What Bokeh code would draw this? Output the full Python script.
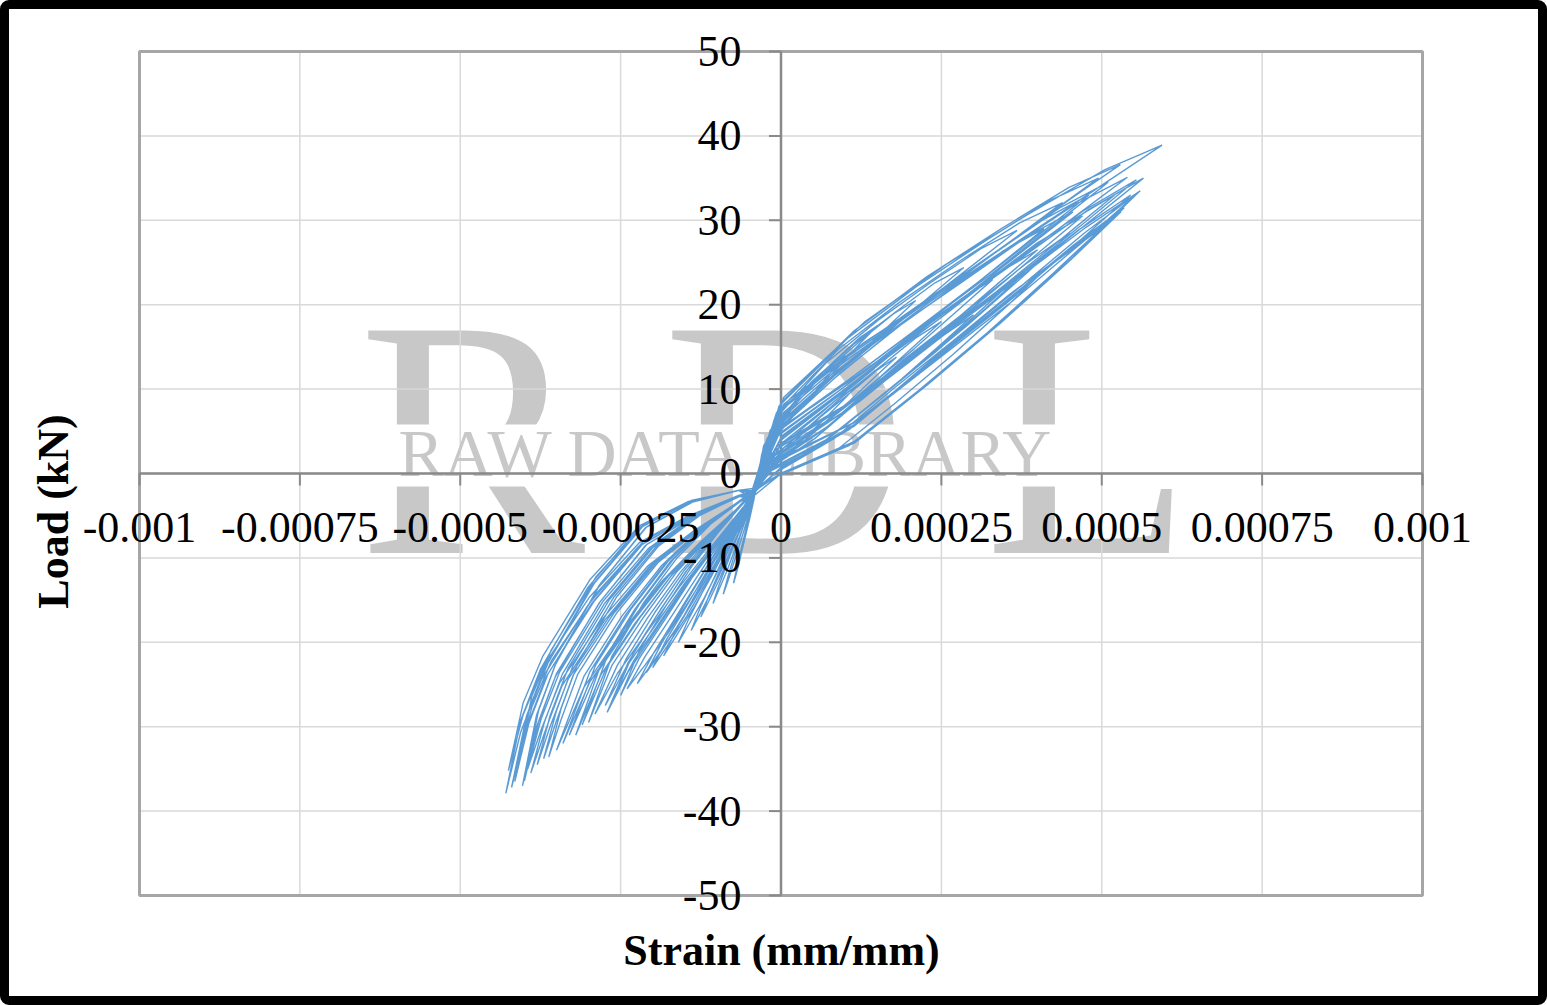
import math
from bokeh.plotting import figure
from bokeh.models import Range1d, ColumnDataSource
from bokeh.core.properties import value
from bokeh.embed import file_html
from bokeh.resources import INLINE

# ---------------- data: strain in microstrain, load in kN, one row per loading cycle ----------------
cycle_strain_ue = [
    [-40, -30, -2, 26, 54, 80, 100, 80, 54, 26, -2, -30, -38, -42, -49, -56, -63, -69, -74, -69, -63, -56, -49, -42],
    [-40, -29, 3, 35, 67, 98, 120, 98, 67, 35, 3, -29, -40, -62, -124, -186, -248, -307, -350, -307, -248, -186, -124, -62],
    [-44, -27, 11, 49, 87, 123, 150, 123, 87, 49, 11, -27, -40, -45, -58, -71, -84, -97, -106, -97, -84, -71, -58, -45],
    [-40, -25, 19, 63, 107, 149, 180, 149, 107, 63, 19, -25, -40, -44, -54, -64, -74, -83, -90, -83, -74, -64, -54, -44],
    [-40, -22, 28, 78, 128, 175, 210, 175, 128, 78, 28, -22, -46, -47, -67, -87, -107, -126, -140, -126, -107, -87, -67, -47],
    [-40, -20, 38, 96, 154, 209, 250, 209, 154, 96, 38, -20, -40, -46, -63, -80, -97, -113, -125, -113, -97, -80, -63, -46],
    [-36, -17, 48, 113, 178, 240, 285, 240, 178, 113, 48, -17, -40, -50, -79, -107, -136, -163, -183, -163, -136, -107, -79, -50],
    [-40, -16, 52, 120, 188, 252, 300, 252, 188, 120, 52, -16, -38, -48, -72, -96, -120, -143, -160, -143, -120, -96, -72, -48],
    [-42, -14, 60, 134, 208, 278, 330, 278, 208, 134, 60, -14, -48, -51, -83, -115, -147, -178, -200, -178, -147, -115, -83, -51],
    [-42, -13, 65, 143, 221, 295, 350, 295, 221, 143, 65, -13, -40, -52, -86, -120, -154, -186, -210, -186, -154, -120, -86, -52],
    [-40, -11, 70, 152, 233, 311, 368, 311, 233, 152, 70, -11, -40, -53, -90, -126, -163, -198, -224, -198, -163, -126, -90, -53],
    [-42, -11, 73, 157, 241, 321, 380, 321, 241, 157, 73, -11, -40, -55, -99, -143, -187, -229, -260, -229, -187, -143, -99, -55],
    [-45, -9, 79, 167, 255, 338, 400, 338, 255, 167, 79, -9, -42, -55, -97, -139, -181, -221, -250, -221, -181, -139, -97, -55],
    [-40, -9, 82, 172, 262, 347, 410, 347, 262, 172, 82, -9, -46, -54, -94, -134, -174, -212, -240, -212, -174, -134, -94, -54],
    [-38, -8, 84, 176, 268, 356, 420, 356, 268, 176, 84, -8, -40, -56, -103, -150, -197, -241, -274, -241, -197, -150, -103, -56],
    [-40, -7, 89, 185, 281, 372, 439, 372, 281, 185, 89, -7, -50, -56, -102, -149, -195, -239, -271, -239, -195, -149, -102, -56],
    [-40, -6, 92, 190, 288, 381, 450, 381, 288, 190, 92, -6, -44, -60, -118, -176, -234, -289, -330, -289, -234, -176, -118, -60],
    [-40, -4, 98, 200, 302, 399, 470, 399, 302, 200, 98, -4, -42, -59, -113, -167, -221, -272, -310, -272, -221, -167, -113, -59],
    [-42, -4, 100, 204, 308, 407, 480, 407, 308, 204, 100, -4, -44, -58, -110, -162, -214, -264, -300, -264, -214, -162, -110, -58],
    [-45, -3, 105, 212, 319, 420, 495, 420, 319, 212, 105, -3, -40, -63, -129, -195, -261, -324, -350, -370, -350, -324, -261, -195, -129, -63],
    [-40, -2, 106, 214, 322, 424, 500, 424, 322, 214, 106, -2, -38, -60, -116, -172, -228, -281, -320, -281, -228, -172, -116, -60],
    [-36, -2, 109, 219, 329, 433, 510, 433, 329, 219, 109, -2, -40, -65, -136, -207, -278, -345, -374, -395, -374, -345, -278, -207, -136, -65],
    [-40, -1, 111, 223, 335, 442, 520, 442, 335, 223, 111, -1, -52, -63, -127, -191, -256, -317, -343, -362, -343, -317, -256, -191, -127, -63],
    [-46, 0, 114, 227, 341, 449, 529, 449, 341, 227, 114, 0, -40, -61, -121, -181, -241, -298, -340, -298, -241, -181, -121, -61],
    [-38, 0, 114, 228, 342, 450, 530, 450, 342, 228, 114, 0, -40, -58, -108, -158, -208, -255, -290, -255, -208, -158, -108, -58],
    [-38, 0, 115, 230, 345, 455, 535, 455, 345, 230, 115, 0, -40, -64, -132, -200, -268, -332, -360, -380, -360, -332, -268, -200, -132, -64],
    [-44, 1, 117, 233, 349, 459, 540, 459, 349, 233, 117, 1, -46, -65, -135, -205, -275, -341, -369, -390, -369, -341, -275, -205, -135, -65],
    [-40, 1, 118, 235, 352, 463, 545, 463, 352, 235, 118, 1, -48, -66, -141, -216, -291, -363, -393, -415, -393, -363, -291, -216, -141, -66],
    [-40, 2, 120, 239, 358, 471, 554, 471, 358, 239, 120, 2, -40, -65, -137, -209, -281, -350, -378, -400, -378, -350, -281, -209, -137, -65],
    [-48, 2, 121, 241, 360, 473, 557, 473, 360, 241, 121, 2, -44, -65, -138, -211, -283, -352, -381, -403, -381, -352, -283, -211, -138, -65],
    [-40, 2, 122, 242, 362, 476, 560, 476, 362, 242, 122, 2, -42, -66, -140, -214, -288, -358, -388, -410, -388, -358, -288, -214, -140, -66],
    [-40, 2, 123, 244, 365, 480, 565, 480, 365, 244, 123, 2, -44, -67, -143, -219, -295, -367, -397, -420, -397, -367, -295, -219, -143, -67],
    [-40, -5, 94, 193, 292, 386, 455, 386, 292, 193, 94, -5, -40, -67, -144, -221, -298, -371, -402, -425, -402, -371, -298, -221, -144, -67],
    [-42, 4, 131, 258, 385, 505, 594, 505, 385, 258, 131, 4, -38, -67, -145, -223, -301, -375, -406, -429, -406, -375, -301, -223, -145, -67],
]
cycle_load_kN = [
    [-2, 2, 4.9, 7.4, 9.8, 12.2, 14, 12.9, 10.8, 8.5, 5.8, 2.3, -1.5, -2.8, -4.8, -7, -9.2, -11.2, -13, -11.7, -9.8, -7.6, -5.4, -3],
    [-2, -0.1, 1.8, 4.1, 6.4, 8.8, 10.5, 9.3, 7.1, 4.9, 2.5, 0.2, -2, -3.1, -6.5, -10.9, -16.9, -24, -32.8, -25.3, -18.8, -12.8, -8, -3.7],
    [-2.5, 2.9, 6.4, 9.4, 12.4, 15.4, 17.5, 16.1, 13.6, 10.8, 7.6, 3.3, -2, -2.9, -5.4, -8, -10.7, -13.3, -15.4, -13.8, -11.5, -8.8, -6.1, -3.2],
    [-2, 0.4, 2.7, 5.7, 8.6, 11.6, 13.8, 12.2, 9.5, 6.8, 3.7, 0.8, -2, -2.9, -5.1, -7.5, -10, -12.3, -14.3, -12.8, -10.7, -8.3, -5.8, -3.1],
    [-2, 3.6, 7.7, 11.2, 14.6, 18, 20.5, 18.9, 16, 12.7, 9, 4.1, -2.6, -3.2, -6.2, -9.5, -12.8, -15.9, -18.6, -16.6, -13.8, -10.5, -7.1, -3.5],
    [-2, 1.1, 4, 7.7, 11.4, 15.2, 18, 16, 12.6, 9.1, 5.2, 1.5, -2, -3.1, -5.8, -8.8, -11.8, -14.6, -17, -15.2, -12.7, -9.7, -6.6, -3.4],
    [-1.5, 4.6, 9.4, 13.4, 17.5, 21.5, 24.4, 22.6, 19.1, 15.3, 10.9, 5.1, -2, -3.4, -7, -10.8, -14.7, -18.5, -21.6, -19.2, -15.9, -12, -8, -3.8],
    [-2, 0.3, 2.9, 7, 11.2, 15.5, 18.8, 16.3, 12.5, 8.5, 4.1, 0.7, -1.8, -3.3, -6.6, -10.1, -13.7, -17.1, -20, -17.8, -14.8, -11.2, -7.5, -3.6],
    [-2.3, 1.9, 5.5, 10.1, 14.8, 19.5, 23, 20.5, 16.3, 11.9, 7, 2.4, -3, -3.5, -7.4, -11.5, -15.7, -19.6, -23, -20.5, -16.9, -12.7, -8.4, -3.9],
    [-2.2, 0.6, 3.6, 8.4, 13.2, 18.2, 22, 19.1, 14.7, 10.1, 5.1, 1.1, -2, -3.5, -7.5, -11.7, -16, -20.1, -23.6, -21, -17.3, -13, -8.6, -3.9],
    [-2, 5.7, 11.2, 16, 20.8, 25.4, 28.8, 26.6, 22.6, 18.2, 13.1, 6.3, -2, -3.6, -7.8, -12.3, -16.9, -21.2, -24.9, -22.2, -18.3, -13.7, -9, -4.1],
    [-2.2, 0.8, 4.1, 9.2, 14.4, 19.7, 23.8, 20.7, 15.9, 11, 5.6, 1.4, -2, -3.2, -6.9, -11.1, -16, -21.1, -26.5, -22.1, -17.4, -12.5, -8.1, -3.7],
    [-2.6, 2.4, 6.6, 11.8, 17.1, 22.5, 26.5, 23.7, 18.8, 13.8, 8.3, 3, -2.2, -3.2, -6.9, -11, -15.9, -21, -26.3, -21.9, -17.3, -12.4, -8.1, -3.7],
    [-2, 4.2, 9.3, 14.6, 19.9, 25.1, 29, 26.4, 21.7, 16.8, 11.2, 4.8, -2.6, -3.6, -8, -12.6, -17.3, -21.7, -25.5, -22.7, -18.7, -14, -9.2, -4.1],
    [-1.8, -0.4, 2.6, 8.2, 14.1, 20.1, 24.8, 21.2, 15.7, 10.1, 4.2, 0.1, -2, -3.3, -7.1, -11.4, -16.5, -21.9, -27.5, -22.9, -18.1, -13, -8.4, -3.8],
    [-2, 6.5, 12.7, 18, 23.2, 28.3, 32.1, 29.7, 25.3, 20.3, 14.7, 7.2, -3.2, -3.3, -7.3, -11.7, -17, -22.5, -28.3, -23.6, -18.6, -13.3, -8.6, -3.8],
    [-2, 1.4, 5.2, 11.3, 17.4, 23.6, 28.5, 24.8, 19.2, 13.4, 7, 2, -2.4, -3, -6.2, -10.4, -16.1, -22.7, -31, -23.9, -17.8, -12.2, -7.7, -3.6],
    [-2, 3, 7.8, 13.8, 19.8, 26, 30.5, 27.3, 21.7, 16, 9.7, 3.7, -2.3, -3, -6, -10.1, -15.5, -21.9, -29.8, -23, -17.2, -11.7, -7.4, -3.5],
    [-2.2, 5, 10.8, 16.7, 22.7, 28.6, 33, 30, 24.8, 19.2, 12.9, 5.7, -2.4, -3, -6, -10, -15.3, -21.7, -29.5, -22.8, -17, -11.6, -7.4, -3.5],
    [-2.6, 7.3, 13.9, 19.6, 25.4, 30.9, 35, 32.4, 27.6, 22.2, 16.1, 8, -2, -2.6, -5, -8.7, -14.7, -22.7, -28.1, -33.8, -29.3, -23.9, -16.6, -10.6, -6.6, -3.3],
    [-2, -0.1, 3.3, 9.8, 16.7, 23.7, 29.1, 24.9, 18.5, 12, 5.2, 0.5, -1.8, -3, -6.2, -10.4, -16.1, -22.7, -31, -23.9, -17.8, -12.2, -7.7, -3.6],
    [-1.6, 5.3, 11.3, 17.5, 23.7, 29.9, 34.5, 31.4, 25.9, 20.1, 13.5, 6, -2, -2.7, -5.1, -8.9, -15.2, -23.5, -29.1, -35, -30.4, -24.8, -17.2, -10.9, -6.8, -3.3],
    [-2, 3.4, 8.5, 15, 21.5, 28.1, 33, 29.5, 23.6, 17.4, 10.6, 4.1, -3.3, -2.6, -5, -8.6, -14.6, -22.5, -27.9, -33.6, -29.2, -23.8, -16.5, -10.5, -6.6, -3.3],
    [-2.7, 7.7, 14.6, 20.6, 26.6, 32.4, 36.6, 33.9, 28.9, 23.3, 16.9, 8.4, -2, -3.1, -6.4, -10.7, -16.6, -23.5, -32, -24.7, -18.4, -12.5, -7.9, -3.7],
    [-1.7, 0, 3.6, 10.5, 17.8, 25.2, 31, 26.5, 19.8, 12.9, 5.6, 0.6, -2, -3.3, -7.3, -11.8, -17.1, -22.7, -28.5, -23.7, -18.7, -13.4, -8.6, -3.9],
    [-1.6, 0, 3.7, 10.7, 18.1, 25.6, 31.5, 27, 20.1, 13.1, 5.7, 0.7, -2, -2.7, -5.1, -8.8, -15, -23.1, -28.7, -34.5, -30, -24.4, -17, -10.8, -6.7, -3.3],
    [-2.4, 5.4, 11.5, 17.8, 24.2, 30.5, 35.1, 31.9, 26.4, 20.4, 13.8, 6.2, -2.6, -2.7, -5.2, -9, -15.4, -23.8, -29.5, -35.5, -30.8, -25.1, -17.4, -11, -6.9, -3.3],
    [-2, 1.9, 6.2, 13.2, 20.2, 27.4, 33, 28.8, 22.3, 15.7, 8.3, 2.6, -2.8, -2, -3.3, -6.3, -13, -22.4, -28.2, -36.5, -29.6, -23.7, -15.1, -8.4, -5.1, -2.7],
    [-2, 3.7, 9, 15.8, 22.7, 29.6, 34.8, 31.1, 24.9, 18.4, 11.2, 4.4, -2, -2, -3.3, -6.3, -13, -22.3, -28.1, -36.4, -29.5, -23.7, -15.1, -8.4, -5.1, -2.7],
    [-3, 0.1, 4, 11.4, 19.2, 27.1, 33.3, 28.5, 21.3, 13.9, 6.1, 0.8, -2.4, -2, -3.4, -6.4, -13.2, -22.7, -28.6, -37, -30, -24.1, -15.3, -8.5, -5.1, -2.7],
    [-2, 1.9, 6.3, 13.4, 20.5, 27.8, 33.5, 29.2, 22.7, 15.9, 8.5, 2.6, -2.2, -2, -3.2, -6, -12.2, -20.9, -26.3, -34, -27.6, -22.2, -14.2, -8, -4.9, -2.6],
    [-2, 3.7, 9.1, 15.9, 22.8, 29.8, 35, 31.3, 25, 18.5, 11.3, 4.5, -2.4, -2, -3.4, -6.4, -13.3, -22.8, -28.8, -37.2, -30.2, -24.2, -15.4, -8.5, -5.1, -2.7],
    [-2, 4.6, 10, 15.7, 21.3, 26.9, 31, 28.2, 23.2, 18, 12, 5.3, -2, -2, -3.3, -6.2, -12.6, -21.6, -27.2, -35.2, -28.6, -22.9, -14.6, -8.2, -5, -2.7],
    [-2.2, 8.2, 15.6, 21.9, 28.3, 34.4, 38.9, 36, 30.7, 24.8, 18, 9, -1.7, -2, -3.4, -6.5, -13.5, -23.2, -29.3, -37.9, -30.7, -24.6, -15.6, -8.7, -5.2, -2.7],
]
end_strain_ue = -40
end_load_kN = -2

x_ticks = [-0.001, -0.00075, -0.0005, -0.00025, 0, 0.00025, 0.0005, 0.00075, 0.001]
x_tick_labels = ["-0.001", "-0.00075", "-0.0005", "-0.00025", "0", "0.00025", "0.0005", "0.00075", "0.001"]
y_ticks = [-50, -40, -30, -20, -10, 0, 10, 20, 30, 40, 50]
y_tick_labels = ["-50", "-40", "-30", "-20", "-10", "0", "10", "20", "30", "40", "50"]
x_title = "Strain (mm/mm)"
y_title = "Load (kN)"
watermark_big = ["R", "D", "L"]
watermark_small = "RAW DATA LIBRARY"

X_MIN, X_MAX = -0.001, 0.001
Y_MIN, Y_MAX = -50, 50

# ---------------- layout (page pixels) ----------------
BORDER = 9
CW, CH = 1547, 1005                    # host border-box size
PLOT_L, PLOT_R, PLOT_T, PLOT_B = 139, 1422, 51, 895
PXX = (PLOT_R - PLOT_L) / (X_MAX - X_MIN)
PXY = (PLOT_B - PLOT_T) / (Y_MAX - Y_MIN)
x0 = X_MIN - (PLOT_L - BORDER) / PXX
y1 = Y_MAX + (PLOT_T - BORDER) / PXY


def px_to_x(px):
    return X_MIN + (px - PLOT_L) / PXX


def px_to_y(py):
    return Y_MAX - (py - PLOT_T) / PXY


MID = 0.344   # em offset from glyph "middle" to alphabetic baseline

# ---------------- build path ----------------
strain, load = [], []
for s_row, l_row in zip(cycle_strain_ue, cycle_load_kN):
    strain.extend([s * 1e-6 for s in s_row])
    load.extend(l_row)
strain.append(end_strain_ue * 1e-6)
load.append(end_load_kN)

SERIF = "Liberation Serif"
AXIS_GRAY = "#898989"
GRID = "#d9d9d9"
WM = "#c8c8c8"
TICK_FS = 44
TITLE_FS = 44

p = figure(width=CW - 2 * BORDER, height=CH - 2 * BORDER, title=None,
           x_range=Range1d(x0, x0 + CW / PXX), y_range=Range1d(y1 - CH / PXY, y1),
           output_backend="svg", toolbar_location=None,
           min_border_left=0, min_border_right=0, min_border_top=0, min_border_bottom=0)
p.min_border = 0
p.xaxis.visible = False
p.yaxis.visible = False
p.grid.visible = False
p.outline_line_color = None
p.background_fill_color = "white"
p.border_fill_color = "white"
p.styles = {"border": f"{BORDER}px solid black", "border-radius": "9px",
            "box-sizing": "content-box", "overflow": "hidden"}

# watermark: big letters with a knocked-out band for the caption
BIG = 340
p.text(x=[px_to_x(358), px_to_x(662), px_to_x(984)], y=[px_to_y(555 - MID * BIG)] * 3, text=watermark_big,
       text_font=value(SERIF), text_font_size=value(f"{BIG}px"), text_color=WM,
       text_align=value("left"), text_baseline=value("middle"))
p.quad(left=[px_to_x(350)], right=[px_to_x(1185)], top=[px_to_y(424)], bottom=[px_to_y(486)],
       fill_color="white", line_color=None)

# grid lines inside the plot area
p.segment(x0=x_ticks, y0=[Y_MIN] * len(x_ticks), x1=x_ticks, y1=[Y_MAX] * len(x_ticks),
          line_color=GRID, line_width=1.5)
p.segment(x0=[X_MIN] * len(y_ticks), y0=y_ticks, x1=[X_MAX] * len(y_ticks), y1=y_ticks,
          line_color=GRID, line_width=1.5)

SMALL = 68
p.text(x=[px_to_x(398)], y=[px_to_y(476 - MID * SMALL)], text=[watermark_small],
       text_font=value(SERIF), text_font_size=value(f"{SMALL}px"), text_color=WM,
       text_align=value("left"), text_baseline=value("middle"))

# plot-area border
p.quad(left=[X_MIN], right=[X_MAX], bottom=[Y_MIN], top=[Y_MAX], fill_color=None,
       line_color="#a6a6a6", line_width=3)

# axes through the origin
p.segment(x0=[X_MIN, 0], y0=[0, Y_MIN], x1=[X_MAX, 0], y1=[0, Y_MAX], line_color=AXIS_GRAY, line_width=2.5)
p.ray(x=x_ticks, y=[0] * len(x_ticks), length=12, length_units="screen",
      angle=-math.pi / 2, line_color=AXIS_GRAY, line_width=2)
p.ray(x=[0] * len(y_ticks), y=y_ticks, length=12, length_units="screen",
      angle=math.pi, line_color=AXIS_GRAY, line_width=2)

# data
p.line(strain, load, line_color="#5b9bd5", line_width=1.4)

# tick labels
xl = ColumnDataSource(dict(x=x_ticks, y=[-(542 - MID * TICK_FS - 473) / PXY] * len(x_ticks), t=x_tick_labels))
p.text(x="x", y="y", text="t", source=xl, text_font=value(SERIF), text_font_size=value(f"{TICK_FS}px"),
       text_color="black", text_align=value("center"), text_baseline=value("middle"))
yl = ColumnDataSource(dict(x=[-39.5 / PXX] * len(y_ticks), y=y_ticks, t=y_tick_labels))
p.text(x="x", y="y", text="t", source=yl, text_font=value(SERIF), text_font_size=value(f"{TICK_FS}px"),
       text_color="black", text_align=value("right"), text_baseline=value("middle"))

# axis titles
p.text(x=[px_to_x(781)], y=[px_to_y(965 - MID * TITLE_FS)], text=[x_title], text_font=value(SERIF),
       text_font_style=value("bold"), text_font_size=value(f"{TITLE_FS}px"), text_color="black",
       text_align=value("center"), text_baseline=value("middle"))
p.text(x=[px_to_x(68 - MID * TITLE_FS)], y=[px_to_y(511)], text=[y_title], angle=math.pi / 2,
       text_font=value(SERIF), text_font_style=value("bold"), text_font_size=value(f"{TITLE_FS}px"),
       text_color="black", text_align=value("center"), text_baseline=value("middle"))

open("out.html", "w").write(file_html(p, INLINE))
